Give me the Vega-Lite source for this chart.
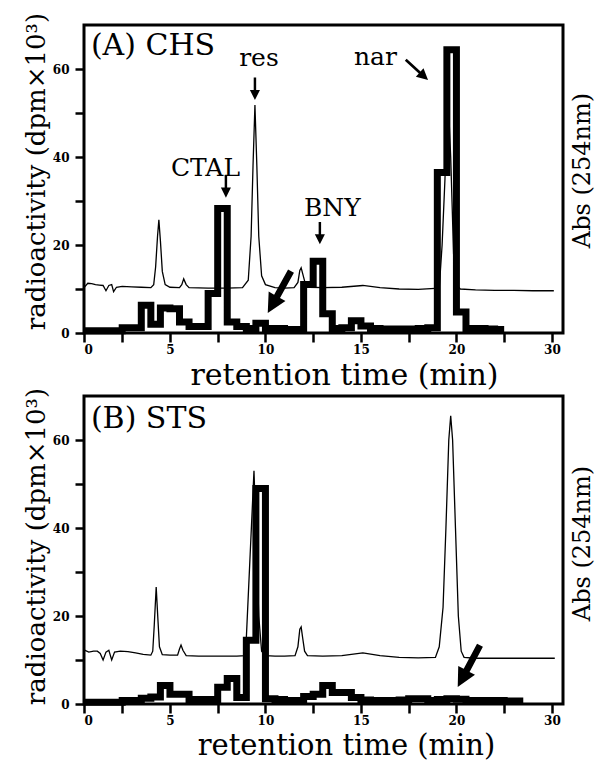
{
  "$schema": "https://vega.github.io/schema/vega-lite/v6.json",
  "padding": {"left": 21, "top": 10, "right": 0, "bottom": 0},
  "bounds": "flush",
  "spacing": 63,
  "config": {
    "view": {"stroke": "black", "strokeWidth": 3},
    "font": "DejaVu Serif",
    "axis": {"domain": false, "grid": false, "tickColor": "black", "tickWidth": 2.5, "labelColor": "black", "titleColor": "black", "labelFont": "DejaVu Serif", "labelFontWeight": "bold", "labelFontSize": 12, "titleFont": "DejaVu Serif", "titleFontWeight": "normal"}
  },
  "datasets": {
    "histA": [
      {"t":0.5,"v":0.5},{"t":1,"v":0.5},{"t":1.5,"v":0.5},{"t":2,"v":0.5},{"t":2.5,"v":1.2},{"t":3,"v":1.2},{"t":3.5,"v":6.3},{"t":4,"v":2},{"t":4.5,"v":5.7},{"t":5,"v":5.5},{"t":5.5,"v":2.5},{"t":6,"v":1.5},{"t":6.5,"v":1.5},{"t":7,"v":9},{"t":7.5,"v":28.3},{"t":8,"v":2.5},{"t":8.5,"v":1.5},{"t":9,"v":1},{"t":9.5,"v":2.2},{"t":10,"v":1},{"t":10.5,"v":1},{"t":11,"v":0.8},{"t":11.5,"v":0.8},{"t":12,"v":11},{"t":12.5,"v":16.3},{"t":13,"v":4.4},{"t":13.5,"v":1},{"t":14,"v":1.2},{"t":14.5,"v":2.8},{"t":15,"v":1.6},{"t":15.5,"v":1},{"t":16,"v":0.9},{"t":16.5,"v":0.9},{"t":17,"v":0.9},{"t":17.5,"v":0.9},{"t":18,"v":1},{"t":18.5,"v":1.2},{"t":19,"v":36.5},{"t":19.5,"v":64.4},{"t":20,"v":4.8},{"t":20.5,"v":1},{"t":21,"v":1},{"t":21.5,"v":0.9},{"t":22,"v":0.8},{"t":22.5,"v":0.8}
    ],
    "histB": [
      {"t":0.5,"v":0.4},{"t":1,"v":0.4},{"t":1.5,"v":0.4},{"t":2,"v":0.4},{"t":2.5,"v":0.8},{"t":3,"v":0.8},{"t":3.5,"v":1.3},{"t":4,"v":1.6},{"t":4.5,"v":4.2},{"t":5,"v":2.2},{"t":5.5,"v":2.2},{"t":6,"v":1},{"t":6.5,"v":1},{"t":7,"v":1},{"t":7.5,"v":3.8},{"t":8,"v":5.8},{"t":8.5,"v":1.5},{"t":9,"v":14.5},{"t":9.5,"v":49},{"t":10,"v":1.2},{"t":10.5,"v":1},{"t":11,"v":0.8},{"t":11.5,"v":0.8},{"t":12,"v":1.7},{"t":12.5,"v":2.2},{"t":13,"v":4.2},{"t":13.5,"v":2.6},{"t":14,"v":2.6},{"t":14.5,"v":1.5},{"t":15,"v":0.9},{"t":15.5,"v":0.8},{"t":16,"v":0.8},{"t":16.5,"v":0.8},{"t":17,"v":0.9},{"t":17.5,"v":1.2},{"t":18,"v":1.2},{"t":18.5,"v":0.8},{"t":19,"v":1},{"t":19.5,"v":1.2},{"t":20,"v":1.1},{"t":20.5,"v":0.8},{"t":21,"v":0.8},{"t":21.5,"v":0.8},{"t":22,"v":0.8},{"t":22.5,"v":0.7},{"t":23,"v":0.7},{"t":23.5,"v":0.7}
    ],
    "absA": [
      {"t":0.5,"v":10.3},{"t":0.7,"v":11.3},{"t":0.9,"v":11.2},{"t":1.1,"v":11.0},{"t":1.3,"v":10.9},{"t":1.5,"v":10.8},{"t":1.65,"v":9.6},{"t":1.8,"v":10.8},{"t":1.95,"v":11.0},{"t":2.05,"v":9.4},{"t":2.2,"v":10.4},{"t":2.5,"v":10.6},{"t":3.0,"v":10.5},{"t":3.5,"v":10.4},{"t":4.0,"v":10.3},{"t":4.15,"v":11},{"t":4.25,"v":15},{"t":4.35,"v":22},{"t":4.42,"v":25.7},{"t":4.5,"v":21},{"t":4.6,"v":14},{"t":4.75,"v":11},{"t":5.0,"v":10.4},{"t":5.5,"v":10.3},{"t":5.62,"v":11},{"t":5.72,"v":12.3},{"t":5.85,"v":11},{"t":6.0,"v":10.3},{"t":7.0,"v":10.2},{"t":8.0,"v":10.2},{"t":8.8,"v":10.3},{"t":9.1,"v":12},{"t":9.25,"v":22},{"t":9.35,"v":38},{"t":9.45,"v":51.8},{"t":9.55,"v":38},{"t":9.65,"v":22},{"t":9.8,"v":13},{"t":10.0,"v":11},{"t":10.5,"v":10.3},{"t":11.0,"v":10.2},{"t":11.5,"v":10.3},{"t":11.7,"v":11.5},{"t":11.8,"v":14.2},{"t":11.87,"v":14.8},{"t":11.95,"v":13.5},{"t":12.1,"v":11},{"t":12.3,"v":10.4},{"t":13,"v":10.3},{"t":14,"v":10.4},{"t":15.1,"v":10.8},{"t":16,"v":10.3},{"t":17,"v":10.0},{"t":18,"v":9.9},{"t":19.1,"v":10.2},{"t":19.25,"v":20},{"t":19.4,"v":35},{"t":19.55,"v":55},{"t":19.7,"v":40},{"t":19.85,"v":18},{"t":20.0,"v":11},{"t":20.2,"v":10},{"t":21,"v":9.8},{"t":22,"v":9.7},{"t":23,"v":9.7},{"t":24,"v":9.6},{"t":25.1,"v":9.6}
    ],
    "absB": [
      {"t":0.5,"v":12.3},{"t":0.75,"v":11.8},{"t":1.0,"v":12.0},{"t":1.2,"v":12.0},{"t":1.35,"v":11.5},{"t":1.5,"v":10.0},{"t":1.65,"v":11.8},{"t":1.8,"v":12.2},{"t":1.95,"v":10.0},{"t":2.1,"v":11.8},{"t":2.4,"v":12.0},{"t":2.8,"v":11.9},{"t":3.2,"v":11.6},{"t":3.6,"v":11.3},{"t":4.0,"v":11.1},{"t":4.1,"v":12},{"t":4.18,"v":18},{"t":4.28,"v":26.6},{"t":4.36,"v":20},{"t":4.45,"v":13},{"t":4.6,"v":11.2},{"t":5.0,"v":11.1},{"t":5.4,"v":11.1},{"t":5.5,"v":12.5},{"t":5.58,"v":13.4},{"t":5.68,"v":12.2},{"t":5.85,"v":11},{"t":6.5,"v":10.9},{"t":7.5,"v":10.9},{"t":8.5,"v":10.9},{"t":8.95,"v":11},{"t":9.0,"v":15},{"t":9.2,"v":34},{"t":9.4,"v":53},{"t":9.5,"v":40},{"t":9.65,"v":20},{"t":9.8,"v":12},{"t":10.0,"v":11},{"t":10.5,"v":10.9},{"t":11.0,"v":10.9},{"t":11.55,"v":11},{"t":11.7,"v":13},{"t":11.8,"v":17},{"t":11.87,"v":17.5},{"t":11.95,"v":15},{"t":12.05,"v":12},{"t":12.2,"v":11},{"t":13,"v":10.9},{"t":14,"v":11},{"t":15.1,"v":11.6},{"t":16,"v":11},{"t":17,"v":10.6},{"t":18,"v":10.5},{"t":18.9,"v":10.6},{"t":19.1,"v":13},{"t":19.3,"v":22},{"t":19.45,"v":40},{"t":19.6,"v":60},{"t":19.7,"v":65.5},{"t":19.8,"v":60},{"t":19.95,"v":40},{"t":20.1,"v":20},{"t":20.25,"v":12},{"t":20.4,"v":10.6},{"t":21,"v":10.4},{"t":22,"v":10.4},{"t":23,"v":10.4},{"t":24,"v":10.4},{"t":25.15,"v":10.4}
    ]
  },
  "vconcat": [
    {
      "width": 479, "height": 308,
      "layer": [
        {
          "data": {"name": "absA"},
          "mark": {"type": "line", "color": "black", "strokeWidth": 1.3},
          "encoding": {
            "x": {"field": "t", "type": "quantitative", "scale": {"domain": [0.5, 25.58], "nice": false, "zero": false}},
            "y": {"field": "v", "type": "quantitative", "scale": {"domain": [0, 70], "nice": false}, "axis": {"orient": "right", "title": "Abs (254nm)", "labels": false, "ticks": false, "titleAngle": 270, "titleFontSize": 24, "titlePadding": 31, "titleY": 145}}
          }
        },
        {
          "layer": [
            {
              "data": {"name": "histA"},
              "mark": {"type": "line", "color": "black", "strokeWidth": 7, "interpolate": "step-after", "strokeJoin": "miter"},
              "encoding": {
                "x": {"field": "t", "type": "quantitative", "scale": {"domain": [0.5, 25.58], "nice": false, "zero": false},
                  "axis": {"values": [0.5, 2.5, 5, 7.5, 10, 12.5, 15, 17.5, 20, 22.5, 25], "labelExpr": "datum.value == 0.5 ? '0' : datum.value == 25 ? '30' : (datum.value % 5 == 0 ? datum.label : '')", "tickSize": 9, "labelPadding": 2, "title": "retention time (min)", "titleFontSize": 30, "titlePadding": 5, "titleX": 260}},
                "y": {"field": "v", "type": "quantitative", "scale": {"domain": [0, 70], "nice": false},
                  "axis": {"values": [0, 10, 20, 30, 40, 50, 60], "labelExpr": "datum.value % 20 == 0 ? datum.label : ''", "tickSize": 9, "labelPadding": 6, "title": "radioactivity (dpm×10³)", "titleFontSize": 26, "titlePadding": 3, "titleY": 146}}
              }
            },
            {
              "data": {"values": [{"t": 0.86, "v": 63.2, "label": "(A) CHS"}]},
              "mark": {"type": "text", "font": "DejaVu Serif", "fontSize": 30, "align": "left", "baseline": "alphabetic", "color": "black"},
              "encoding": {"x": {"field": "t", "type": "quantitative"}, "y": {"field": "v", "type": "quantitative"}, "text": {"field": "label"}}
            },
            {
              "data": {"values": [{"t": 9.66, "v": 60.7, "label": "res"}, {"t": 6.86, "v": 35.7, "label": "CTAL"}, {"t": 13.5, "v": 26.6, "label": "BNY"}, {"t": 15.76, "v": 61, "label": "nar"}]},
              "mark": {"type": "text", "font": "DejaVu Serif", "fontSize": 25, "align": "center", "baseline": "alphabetic", "color": "black"},
              "encoding": {"x": {"field": "t", "type": "quantitative"}, "y": {"field": "v", "type": "quantitative"}, "text": {"field": "label"}}
            },
            {
              "data": {"values": [{"t": 9.45, "v": 55.5}, {"t": 7.93, "v": 33.3}, {"t": 12.85, "v": 22.7}]},
              "mark": {"type": "point", "shape": "M-0.11,-1L0.11,-1L0.11,0.1L0.45,0.1L0,1L-0.45,0.1L-0.11,0.1Z", "filled": true, "color": "black", "opacity": 1, "size": 500, "strokeWidth": 0},
              "encoding": {"x": {"field": "t", "type": "quantitative"}, "y": {"field": "v", "type": "quantitative"}}
            },
            {
              "data": {"values": [{"t": 17.93, "v": 59.8}]},
              "mark": {"type": "point", "shape": "M-0.09,-1L0.09,-1L0.09,0.25L0.38,0.25L0,1L-0.38,0.25L-0.09,0.25Z", "filled": true, "color": "black", "opacity": 1, "size": 900, "angle": 312, "strokeWidth": 0},
              "encoding": {"x": {"field": "t", "type": "quantitative"}, "y": {"field": "v", "type": "quantitative"}}
            },
            {
              "data": {"values": [{"t": 10.73, "v": 9.3}]},
              "mark": {"type": "point", "shape": "M-0.14,-1L0.14,-1L0.14,0.2L0.4,0.2L0,1L-0.4,0.2L-0.14,0.2Z", "filled": true, "color": "black", "opacity": 1, "size": 2300, "angle": 29, "strokeWidth": 0},
              "encoding": {"x": {"field": "t", "type": "quantitative"}, "y": {"field": "v", "type": "quantitative"}}
            }
          ]
        }
      ],
      "resolve": {"scale": {"y": "independent"}}
    },
    {
      "width": 479, "height": 308,
      "layer": [
        {
          "data": {"name": "absB"},
          "mark": {"type": "line", "color": "black", "strokeWidth": 1.3},
          "encoding": {
            "x": {"field": "t", "type": "quantitative", "scale": {"domain": [0.5, 25.58], "nice": false, "zero": false}},
            "y": {"field": "v", "type": "quantitative", "scale": {"domain": [0, 70], "nice": false}, "axis": {"orient": "right", "title": "Abs (254nm)", "labels": false, "ticks": false, "titleAngle": 270, "titleFontSize": 24, "titlePadding": 31, "titleY": 147}}
          }
        },
        {
          "layer": [
            {
              "data": {"name": "histB"},
              "mark": {"type": "line", "color": "black", "strokeWidth": 7, "interpolate": "step-after", "strokeJoin": "miter"},
              "encoding": {
                "x": {"field": "t", "type": "quantitative", "scale": {"domain": [0.5, 25.58], "nice": false, "zero": false},
                  "axis": {"values": [0.5, 2.5, 5, 7.5, 10, 12.5, 15, 17.5, 20, 22.5, 25], "labelExpr": "datum.value == 0.5 ? '0' : datum.value == 25 ? '30' : (datum.value % 5 == 0 ? datum.label : '')", "tickSize": 9, "labelPadding": 2, "title": "retention time (min)", "titleFontSize": 29, "titlePadding": 5, "titleX": 262}},
                "y": {"field": "v", "type": "quantitative", "scale": {"domain": [0, 70], "nice": false},
                  "axis": {"values": [0, 10, 20, 30, 40, 50, 60], "labelExpr": "datum.value % 20 == 0 ? datum.label : ''", "tickSize": 9, "labelPadding": 6, "title": "radioactivity (dpm×10³)", "titleFontSize": 26, "titlePadding": 3, "titleY": 150}}
              }
            },
            {
              "data": {"values": [{"t": 0.86, "v": 62.7, "label": "(B) STS"}]},
              "mark": {"type": "text", "font": "DejaVu Serif", "fontSize": 30, "align": "left", "baseline": "alphabetic", "color": "black"},
              "encoding": {"x": {"field": "t", "type": "quantitative"}, "y": {"field": "v", "type": "quantitative"}, "text": {"field": "label"}}
            },
            {
              "data": {"values": [{"t": 20.65, "v": 8.6}]},
              "mark": {"type": "point", "shape": "M-0.14,-1L0.14,-1L0.14,0.2L0.4,0.2L0,1L-0.4,0.2L-0.14,0.2Z", "filled": true, "color": "black", "opacity": 1, "size": 2250, "angle": 28, "strokeWidth": 0},
              "encoding": {"x": {"field": "t", "type": "quantitative"}, "y": {"field": "v", "type": "quantitative"}}
            }
          ]
        }
      ],
      "resolve": {"scale": {"y": "independent"}}
    }
  ]
}
